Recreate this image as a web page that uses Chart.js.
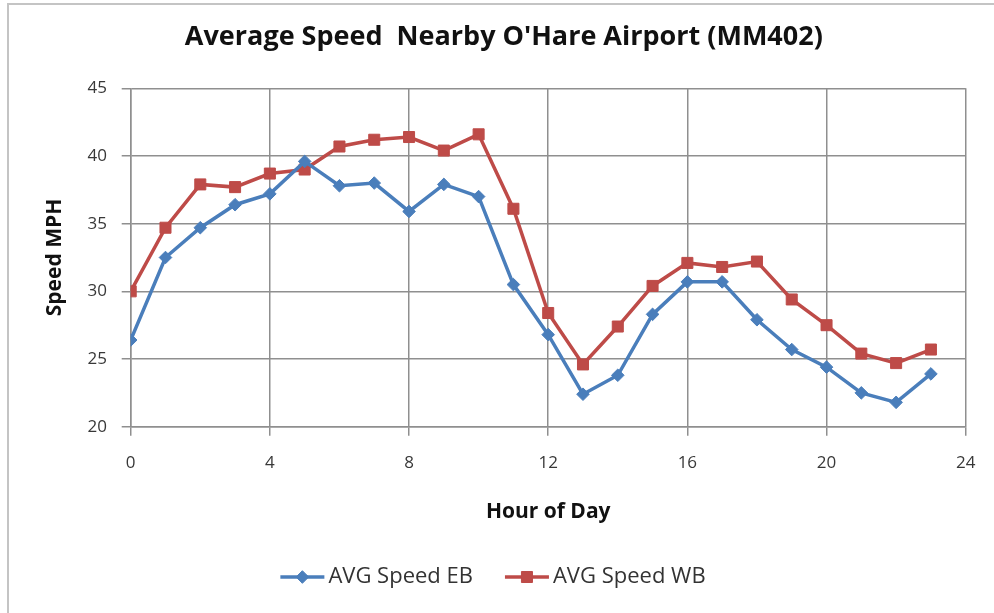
<!DOCTYPE html>
<html>
<head>
<meta charset="utf-8">
<script src="https://cdn.jsdelivr.net/npm/chart.js@4/dist/chart.umd.min.js"></script>
<style>
  html, body { margin: 0; padding: 0; background: #fff; }
  #wrap { position: relative; width: 994px; height: 613px; overflow: hidden; }
  #frame { position: absolute; left: 7px; top: 3px; width: 1100px; height: 800px; border: 2px solid #c4c4c4; box-sizing: border-box; }
  canvas { position: absolute; left: 0; top: 0; }
</style>
</head>
<body>
<div id="wrap">
  <div id="frame"></div>
  <canvas id="c" width="994" height="613"></canvas>
</div>
<script>
const chartTitle = "Average Speed  Nearby O'Hare Airport (MM402)";
const xTitle = "Hour of Day";
const yTitle = "Speed MPH";
const hours = [0,1,2,3,4,5,6,7,8,9,10,11,12,13,14,15,16,17,18,19,20,21,22,23];
const ebSpeed = [26.4, 32.5, 34.7, 36.4, 37.2, 39.6, 37.8, 38.0, 35.9, 37.9, 37.0, 30.5, 26.8, 22.4, 23.8, 28.3, 30.7, 30.7, 27.9, 25.7, 24.4, 22.5, 21.8, 23.9];
const wbSpeed = [30.0, 34.7, 37.9, 37.7, 38.7, 39.0, 40.7, 41.2, 41.4, 40.4, 41.6, 36.1, 28.4, 24.6, 27.4, 30.4, 32.1, 31.8, 32.2, 29.4, 27.5, 25.4, 24.7, 25.7];
const seriesNames = ["AVG Speed EB", "AVG Speed WB"];

const BLUE = '#4A7EBB';
const RED = '#BE4B48';
const GRID = '#8f8f8f';
const FONT = "'Open Sans', sans-serif";

const legendPlugin = {
  id: 'excelLegend',
  afterDraw(chart) {
    const ctx = chart.ctx;
    const y = 577;
    ctx.save();
    ctx.font = "22px " + FONT;
    ctx.textBaseline = 'middle';
    const sampleW = 44, textGap = 4, itemGap = 32;
    const items = chart.data.datasets.map(ds => ({ds, w: ctx.measureText(ds.label).width}));
    let total = 0;
    items.forEach((it, i) => { total += sampleW + textGap + it.w + (i ? itemGap : 0); });
    let x = 493 - total / 2;
    items.forEach((it, i) => {
      if (i) x += itemGap;
      const ds = it.ds;
      ctx.strokeStyle = ds.borderColor;
      ctx.lineWidth = ds.borderWidth;
      ctx.beginPath();
      ctx.moveTo(x, y);
      ctx.lineTo(x + sampleW, y);
      ctx.stroke();
      ctx.fillStyle = ds.backgroundColor;
      ctx.strokeStyle = ds.borderColor;
      ctx.lineWidth = 1;
      ctx.beginPath();
      const r = ds.pointRadius;
      const cx = x + sampleW / 2;
      if (ds.pointStyle === 'rect') {
        const s = r * Math.SQRT1_2;
        ctx.rect(cx - s, y - s, 2 * s, 2 * s);
      } else {
        ctx.moveTo(cx, y - r); ctx.lineTo(cx + r, y); ctx.lineTo(cx, y + r); ctx.lineTo(cx - r, y); ctx.closePath();
      }
      ctx.fill(); ctx.stroke();
      ctx.fillStyle = '#333';
      ctx.fillText(ds.label, x + sampleW + textGap, y);
      x += sampleW + textGap + it.w;
    });
    ctx.restore();
  }
};

new Chart(document.getElementById('c'), {
  type: 'line',
  data: {
    datasets: [
      {
        label: seriesNames[0],
        data: hours.map((h, i) => ({x: h, y: ebSpeed[i]})),
        borderColor: BLUE, backgroundColor: BLUE,
        borderWidth: 3.5, pointStyle: 'rectRot', pointRadius: 6.3,
        pointBorderWidth: 1, tension: 0
      },
      {
        label: seriesNames[1],
        data: hours.map((h, i) => ({x: h, y: wbSpeed[i]})),
        borderColor: RED, backgroundColor: RED,
        borderWidth: 3.5, pointStyle: 'rect', pointRadius: 7.8,
        pointBorderWidth: 1, tension: 0
      }
    ]
  },
  options: {
    responsive: false,
    animation: false,
    layout: { padding: { left: 42, top: 4, right: 28.3, bottom: 70 } },
    plugins: {
      legend: { display: false },
      tooltip: { enabled: false },
      title: {
        display: true, text: chartTitle, color: '#111',
        font: { family: FONT, size: 27, weight: 'bold' },
        padding: { top: 17, bottom: 34.9 }
      }
    },
    scales: {
      x: {
        type: 'linear', min: 0, max: 24,
        afterFit(s) { s.height = 116.3; },
        ticks: { stepSize: 4, color: '#383838', padding: 17.1, font: { family: FONT, size: 17 } },
        grid: { color: GRID, lineWidth: 1.5, tickLength: 9, tickColor: GRID, drawTicks: true },
        border: { color: GRID, width: 1.5 },
        title: { display: true, text: xTitle, color: '#111', font: { family: FONT, size: 21, weight: 'bold' }, padding: { top: 0, bottom: 18.4 } }
      },
      y: {
        min: 20, max: 45,
        afterFit(s) { s.width = 88.7; },
        ticks: { stepSize: 5, color: '#383838', padding: 14.7, font: { family: FONT, size: 17 } },
        grid: { color: GRID, lineWidth: 1.5, tickLength: 9, tickColor: GRID, drawTicks: true },
        border: { color: GRID, width: 1.5 },
        title: { display: true, text: yTitle, color: '#111', font: { family: FONT, size: 21, weight: 'bold' }, padding: { top: 0, bottom: 0 } }
      }
    }
  },
  plugins: [legendPlugin]
});
</script>
</body>
</html>
